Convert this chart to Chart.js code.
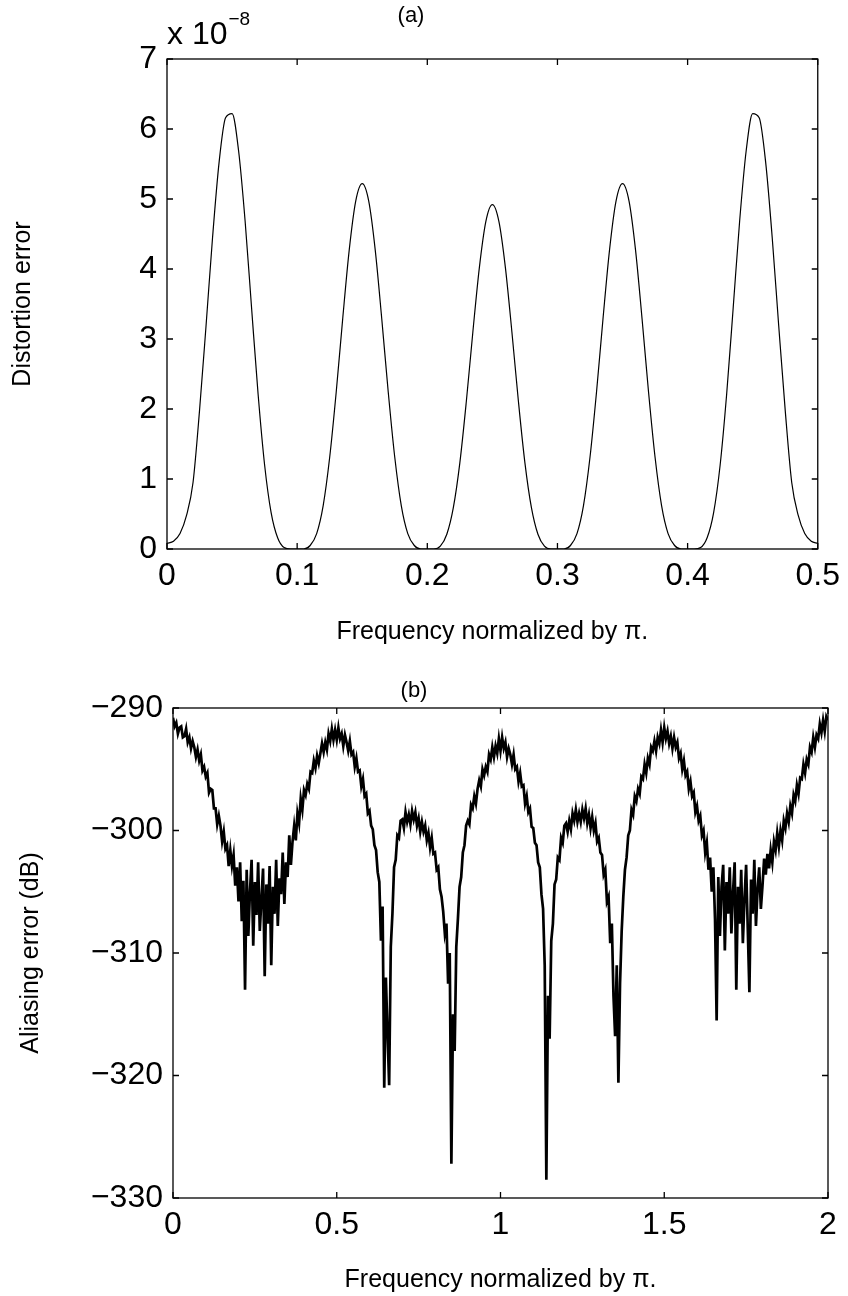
<!DOCTYPE html>
<html>
<head>
<meta charset="utf-8">
<script src="https://cdn.jsdelivr.net/npm/chart.js@4.4.1/dist/chart.umd.min.js"></script>
<style>
  body { margin: 0; background: #fff; }
  canvas { display: block; }
</style>
</head>
<body>
<canvas id="distortionChart" width="848" height="650"></canvas>
<canvas id="aliasingChart" width="848" height="646"></canvas>
<script>
// (a) distortion error, read every 0.005 from 0 to 0.5 (units of 1e-8)
const distStep = 0.005;
const distortion = [
  0.08, 0.11, 0.22, 0.48, 0.95, 1.98, 3.19, 4.45, 5.52, 6.16, 6.22, 5.69, 4.69, 3.44, 2.21, 1.20, 0.52, 0.16, 0.02, 0.00,
  0.00, 0.00, 0.05, 0.22, 0.62, 1.31, 2.24, 3.29, 4.27, 4.97, 5.22, 4.97, 4.27, 3.29, 2.24, 1.31, 0.62, 0.22, 0.05, 0.00,
  0.00, 0.00, 0.04, 0.21, 0.59, 1.23, 2.11, 3.10, 4.02, 4.68, 4.92, 4.68, 4.02, 3.10, 2.11, 1.23, 0.59, 0.21, 0.04, 0.00,
  0.00, 0.00, 0.05, 0.22, 0.62, 1.31, 2.24, 3.29, 4.27, 4.97, 5.22, 4.97, 4.27, 3.29, 2.24, 1.31, 0.62, 0.22, 0.05, 0.00,
  0.00, 0.00, 0.02, 0.16, 0.52, 1.20, 2.21, 3.44, 4.69, 5.69, 6.22, 6.16, 5.52, 4.45, 3.19, 1.98, 0.95, 0.48, 0.22, 0.11,
  0.08
];
const distXTicks = [0, 0.1, 0.2, 0.3, 0.4, 0.5];
const distYTicks = [0, 1, 2, 3, 4, 5, 6, 7];

// (b) aliasing error in dB, read every 0.005 from 0 to 2
const aliasStep = 0.005;
const aliasing = [
  -290.8, -291.5, -291.2, -292.1, -291.6, -291.5, -292.4, -292.3, -291.7, -292.8, -292.4, -293.3, -292.7, -293.2, -294.0, -293.4, -294.3, -293.8, -295.1, -294.8,
  -295.6, -295.3, -296.9, -296.6, -296.7, -298.2, -298.2, -299.5, -298.8, -299.6, -300.9, -300.1, -301.5, -301.2, -302.9, -301.6, -302.9, -302.0, -304.5, -303.0,
  -305.8, -302.6, -307.4, -304.1, -313.0, -303.2, -308.6, -305.0, -302.4, -309.4, -304.2, -306.9, -302.6, -308.2, -305.6, -303.1, -311.9, -304.4, -307.6, -302.9,
  -311.0, -304.6, -306.8, -302.4, -307.8, -303.9, -305.2, -301.8, -306.0, -302.6, -303.8, -300.4, -302.8, -300.9, -299.6, -300.8, -298.6, -299.4, -297.4, -298.3,
  -296.7, -297.1, -296.2, -296.6, -295.2, -295.3, -294.3, -294.9, -293.9, -294.5, -293.7, -292.9, -293.6, -292.8, -293.4, -292.1, -292.7, -291.7, -292.6, -291.8,
  -292.6, -291.6, -292.5, -292.1, -293.1, -292.2, -292.8, -293.5, -292.7, -293.8, -293.6, -294.8, -294.1, -295.2, -295.1, -296.4, -295.8, -297.2, -297.0, -298.6,
  -298.4, -299.6, -299.9, -301.2, -301.6, -303.4, -304.2, -309.0, -306.2, -321.0, -312.0, -316.5, -320.8, -309.5, -306.8, -303.0, -302.4, -300.4, -300.6, -299.2,
  -299.1, -299.8, -298.5, -299.3, -298.7, -299.5, -298.4, -299.1, -298.5, -299.6, -299.0, -300.1, -299.3, -300.1, -299.6, -300.8, -300.2, -301.4, -300.6, -301.9,
  -301.8, -303.2, -303.0, -304.8, -305.4, -306.6, -308.4, -307.6, -312.5, -310.0, -327.2, -315.0, -318.0, -309.5, -307.2, -304.6, -303.8, -301.8, -301.2, -299.6,
  -299.2, -299.5, -297.9, -298.2, -297.2, -297.8, -296.6, -295.9, -296.4, -295.0, -295.5, -294.8, -295.2, -293.8, -294.2, -293.2, -294.0, -293.1, -293.7, -292.5,
  -293.5, -292.4, -293.3, -292.8, -294.0, -293.3, -293.8, -294.6, -293.8, -295.0, -294.8, -296.0, -295.3, -296.4, -296.3, -297.8, -297.2, -298.5, -298.2, -299.7,
  -299.8, -301.0, -301.2, -302.6, -303.0, -305.2, -306.4, -311.0, -328.5, -313.5, -317.0, -309.0, -307.6, -304.4, -304.0, -302.2, -302.4, -300.6, -301.0, -299.6,
  -299.4, -300.1, -299.2, -299.9, -298.6, -299.2, -298.3, -299.3, -298.6, -299.3, -298.3, -299.0, -298.2, -299.4, -298.7, -299.8, -298.9, -300.0, -299.4, -300.9,
  -300.6, -301.8, -302.0, -303.6, -303.2, -305.8, -305.4, -309.2, -307.6, -313.5, -316.8, -311.0, -320.6, -312.5, -308.2, -305.4, -303.2, -302.2, -300.4, -300.0,
  -298.3, -298.7, -297.2, -297.6, -296.6, -297.0, -295.6, -295.8, -294.6, -295.3, -294.1, -294.6, -293.2, -293.5, -292.7, -293.5, -292.4, -292.9, -291.8, -292.8,
  -291.6, -292.5, -291.9, -292.9, -292.3, -293.3, -292.4, -293.2, -292.8, -294.1, -293.7, -295.0, -294.3, -295.5, -295.2, -296.6, -296.0, -297.2, -296.9, -298.5,
  -298.0, -299.2, -298.8, -300.4, -300.0, -301.8, -301.0, -303.2, -302.2, -305.0, -303.0, -307.2, -315.5, -303.8, -308.6, -304.6, -302.8, -309.8, -304.2, -306.8,
  -303.0, -308.4, -305.0, -302.6, -313.0, -304.6, -307.6, -303.2, -309.2, -305.6, -302.8, -308.0, -313.2, -304.0, -306.8, -302.4, -307.8, -304.8, -303.0, -306.4,
  -304.5, -302.3, -303.6, -301.9, -303.1, -301.6, -302.6, -300.9, -301.6, -300.2, -301.3, -300.0, -300.8, -299.2, -299.8, -298.6, -299.3, -298.0, -298.6, -297.1,
  -297.6, -296.3, -297.0, -295.7, -295.8, -294.6, -295.3, -294.2, -294.6, -293.2, -293.6, -292.4, -293.2, -292.2, -292.5, -291.3, -292.0, -291.0, -291.9, -290.7,
  -291.0
];
const aliasXTicks = [0, 0.5, 1, 1.5, 2];
const aliasYTicks = [-330, -320, -310, -300, -290];

const FONT = '"Liberation Sans", Arial, Helvetica, sans-serif';
const fmt = (v) => String(Math.round(v * 100) / 100).replace('-', '\u2212');

// box round the plot with inward ticks on all four sides, like matlab
const matlabFrame = {
  id: 'matlabFrame',
  afterDraw(chart, args, opts) {
    const {ctx, chartArea: a, scales: {x, y}} = chart;
    const len = 6;
    ctx.save();
    ctx.strokeStyle = '#000';
    ctx.lineWidth = 1.3;
    ctx.strokeRect(a.left, a.top, a.right - a.left, a.bottom - a.top);
    ctx.beginPath();
    x.ticks.forEach((t) => {
      const px = x.getPixelForValue(t.value);
      ctx.moveTo(px, a.bottom); ctx.lineTo(px, a.bottom - len);
      ctx.moveTo(px, a.top); ctx.lineTo(px, a.top + len);
    });
    y.ticks.forEach((t) => {
      const py = y.getPixelForValue(t.value);
      ctx.moveTo(a.left, py); ctx.lineTo(a.left + len, py);
      ctx.moveTo(a.right, py); ctx.lineTo(a.right - len, py);
    });
    ctx.stroke();
    if (opts.exponent) {
      ctx.fillStyle = '#000';
      ctx.textBaseline = 'alphabetic';
      ctx.textAlign = 'left';
      ctx.font = '32px ' + FONT;
      ctx.fillText('x 10', a.left, a.top - 15);
      const w = ctx.measureText('x 10').width;
      ctx.font = '19px ' + FONT;
      ctx.fillText(opts.exponent, a.left + w + 1, a.top - 34);
    }
    ctx.restore();
  }
};

function makeChart(id, cfg) {
  const points = cfg.values.map((v, i) => ({x: i * cfg.step, y: v}));
  return new Chart(document.getElementById(id), {
    type: 'line',
    data: {
      datasets: [{
        data: points,
        borderColor: '#000',
        borderWidth: cfg.lineWidth,
        pointRadius: 0,
        tension: cfg.smooth ? 0.4 : 0,
        cubicInterpolationMode: cfg.smooth ? 'monotone' : 'default'
      }]
    },
    options: {
      responsive: false,
      animation: false,
      events: [],
      layout: {padding: {left: 0, right: cfg.padRight, top: 0, bottom: 0}},
      plugins: {
        legend: {display: false},
        tooltip: {enabled: false},
        title: {
          display: true,
          text: cfg.title,
          color: '#000',
          font: {family: FONT, size: 22, weight: 'normal', lineHeight: 1},
          padding: cfg.titlePad
        },
        matlabFrame: {exponent: cfg.exponent}
      },
      scales: {
        x: {
          type: 'linear',
          min: cfg.xTicks[0],
          max: cfg.xTicks[cfg.xTicks.length - 1],
          afterBuildTicks: (s) => { s.ticks = cfg.xTicks.map((v) => ({value: v})); },
          afterFit: (s) => { s.height = cfg.xAxisHeight; },
          grid: {display: false, drawTicks: false},
          border: {display: false},
          ticks: {color: '#000', font: {family: FONT, size: 32}, padding: 8, maxRotation: 0, callback: fmt},
          title: {display: true, text: 'Frequency normalized by \u03c0.', color: '#000',
                  font: {family: FONT, size: 25}, padding: {top: 0, bottom: cfg.xTitleBottom}}
        },
        y: {
          type: 'linear',
          min: cfg.yTicks[0],
          max: cfg.yTicks[cfg.yTicks.length - 1],
          afterBuildTicks: (s) => { s.ticks = cfg.yTicks.map((v) => ({value: v})); },
          afterFit: (s) => { s.width = cfg.yAxisWidth; },
          grid: {display: false, drawTicks: false},
          border: {display: false},
          ticks: {color: '#000', font: {family: FONT, size: 32}, padding: 10, callback: fmt},
          title: {display: true, text: cfg.yLabel, color: '#000',
                  font: {family: FONT, size: 25}, padding: {top: cfg.yTitleTop, bottom: 0}}
        }
      }
    },
    plugins: [matlabFrame]
  });
}

makeChart('distortionChart', {
  values: distortion, step: distStep, smooth: true, lineWidth: 1.2,
  xTicks: distXTicks, yTicks: distYTicks,
  title: '(a)', titlePad: {top: 5, bottom: 32}, exponent: '\u22128',
  yLabel: 'Distortion error', yAxisWidth: 167, yTitleTop: 8,
  xAxisHeight: 101, xTitleBottom: 3, padRight: 26
});

makeChart('aliasingChart', {
  values: aliasing, step: aliasStep, smooth: false, lineWidth: 2.7,
  xTicks: aliasXTicks, yTicks: aliasYTicks,
  title: '(b)', titlePad: {top: 30, bottom: 6}, exponent: null,
  yLabel: 'Aliasing error (dB)', yAxisWidth: 173, yTitleTop: 16,
  xAxisHeight: 98, xTitleBottom: 1, padRight: 20
});
</script>
</body>
</html>
